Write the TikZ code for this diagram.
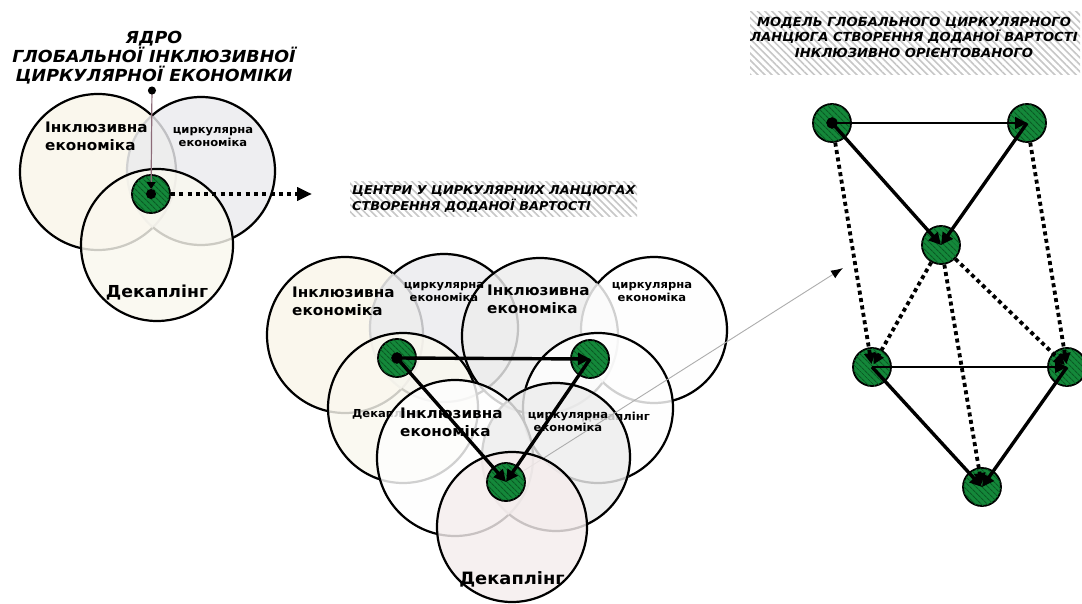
\documentclass[tikz,border=0pt]{standalone}
\usepackage{fontspec}
\setmainfont{DejaVu Sans}[BoldFeatures={FakeStretch=1.05},BoldItalicFeatures={FakeStretch=1.05}]
\usetikzlibrary{arrows.meta,patterns.meta}
\definecolor{creamA}{HTML}{F9F6EA}
\definecolor{creamB}{HTML}{FAF8EF}
\definecolor{greyA}{HTML}{EBEBEE}
\definecolor{greyB}{HTML}{EDEDED}
\definecolor{whiteC}{HTML}{FEFEFE}
\definecolor{pinkC}{HTML}{F5EDED}
\definecolor{coregreen}{HTML}{14883A}
\definecolor{coredark}{HTML}{0A5A24}
\definecolor{mauve}{HTML}{8C6B78}
\tikzset{
  ringline/.style={draw=black, line width=2.2pt},
  fadeline/.style={draw=black!18, line width=2.2pt},
  core/.style={circle, draw=black, line width=1.8pt, fill=coregreen, minimum size=38pt, inner sep=0pt,
    postaction={pattern={Lines[angle=-45,distance=4pt,line width=1.1pt]}, pattern color=coredark}},
  lblbig/.style={font=\bfseries\fontsize{14.5}{18}\selectfont, align=left, inner sep=0pt},
  lblsmall/.style={font=\bfseries\fontsize{11}{13}\selectfont, align=center, inner sep=0pt},
  lbldec/.style={font=\bfseries\fontsize{16.5}{20}\selectfont, inner sep=0pt},
  lbldecs/.style={font=\bfseries\fontsize{11}{13}\selectfont, inner sep=0pt},
  ttl/.style={font=\bfseries\itshape\fontsize{16.6}{19}\selectfont, inner sep=0pt},
  ttls/.style={font=\bfseries\itshape\fontsize{12.2}{16}\selectfont, inner sep=0pt},
  hatchbox/.style={pattern={Lines[angle=-45,distance=5pt,line width=1.6pt]}, pattern color=black!22},
  dotbig/.style={line width=3.8pt, dash pattern=on 4pt off 4.3pt},
  mconn/.style={line width=3.4pt, draw=black},
  netthin/.style={line width=2.4pt, draw=black},
  dotnet/.style={line width=3.8pt, dash pattern=on 4pt off 3.5pt, shorten >=3pt,
    -{Triangle[length=11pt,width=11pt]}},
  tipend/.style={-{Triangle[length=12pt,width=12pt]}},
  tipboth/.style={{Circle[length=11pt]}-{Triangle[length=12pt,width=12pt]}, shorten <=-5.5pt},
  grayarrow/.style={draw=black!32, line width=0.9pt, -{Latex[length=12pt,width=9pt,color=black]}}
}
\newcommand{\ring}[4]{%
  \fill[#4, fill opacity=0.82] (#1,#2) circle (#3pt);
  \draw[ringline] (#1,#2) circle (#3pt);}
\newcommand{\ringunder}[7]{%
  \fill[#4, fill opacity=0.82] (#1,#2) circle (#3pt);
  \draw[fadeline] (#1,#2) circle (#3pt);
  \begin{scope}[even odd rule]
    \clip (-20,-20) rectangle (1100,640) (#5,#6) circle (#7pt);
    \draw[ringline] (#1,#2) circle (#3pt);
  \end{scope}}
\begin{document}
\begin{tikzpicture}[x=1pt,y=-1pt]
\useasboundingbox (0,0) rectangle (1082,604);
\fill[white] (0,0) rectangle (1082,604);

% hatched title backgrounds
\fill[hatchbox] (350,182) rectangle (637,217);
\fill[hatchbox] (750,12) rectangle (1080,75);

% ---------- top-left cluster ----------
\ring{98}{172}{78}{creamA}
\ringunder{201}{171}{74}{greyA}{98}{172}{78}
\ring{157}{245}{76}{creamB}
\node[lblbig, anchor=north west] (tlInkl) at (45,121.5) {Інклюзивна\\економіка};
\node[lblsmall, anchor=north] (tlCirc) at (213,127) {циркулярна\\економіка};
\node[lbldec, anchor=base] (tlDec) at (157,298) {Декаплінг};

\node[core] (tlCore) at (151,194) {};
\coordinate (tlPin) at (152,86.5);
\coordinate (tlOut) at (312,194);
\draw[dotbig, -{Triangle[length=15pt,width=13pt]}] (tlCore.east) -- (tlOut);
\draw[mauve, line width=1.2pt, {Circle[length=8pt,color=black]}-{Triangle[length=7pt,width=9pt,color=black] Circle[length=10pt,color=black]}] (tlPin) -- ([yshift=-5pt]tlCore.center);

\node[ttl, align=center] (coreTitle) at (154,57.5) {ЯДРО\\ГЛОБАЛЬНОЇ ІНКЛЮЗИВНОЇ\\ЦИРКУЛЯРНОЇ ЕКОНОМІКИ};

% ---------- middle cluster ----------
% triplet A
\ring{345}{335}{78}{creamA}
\ringunder{444}{328}{74}{greyA}{345}{335}{78}
\ring{403}{408}{75}{creamB}
\node[lbldecs, anchor=base west] (aDec) at (352,417) {Декаплінг};
% triplet B
\ring{540}{336}{78}{greyB}
\ringunder{654}{330}{73}{whiteC}{540}{336}{78}
\ring{598}{408}{75}{whiteC}
\node[lbldecs, anchor=base east] (bDec) at (650,420) {Декаплінг};
% triplet C
\ring{455}{458}{78}{whiteC}
\ringunder{556}{457}{74}{greyB}{455}{458}{78}
\coordinate (cC) at (506,482);
\coordinate (grayTip) at (843,268);
\draw[grayarrow] (cC) -- (grayTip);
\ring{512}{527}{75}{pinkC}

\node[lblbig, anchor=north west] (aInkl) at (292,287) {Інклюзивна\\економіка};
\node[lblsmall, anchor=north] (aCirc) at (444,282) {циркулярна\\економіка};
\node[lblbig, anchor=north west] (bInkl) at (487,285) {Інклюзивна\\економіка};
\node[lblsmall, anchor=north] (bCirc) at (652,282) {циркулярна\\економіка};
\node[lblbig, anchor=north west] (cInkl) at (400,408) {Інклюзивна\\економіка};
\node[lblsmall, anchor=north] (cCirc) at (568,412) {циркулярна\\економіка};
\node[lbldec, anchor=base, font=\bfseries\fontsize{17}{20}\selectfont] (cDec) at (512,584) {Декаплінг};

\node[core] (A) at (397,358) {};
\node[core] (B) at (590,359) {};
\node[core] (C) at (cC) {};
\draw[mconn, tipboth] (A.center) -- (B.center);
\draw[mconn, tipboth] (A.center) -- (C.center);
\draw[mconn, tipend] (B.center) -- (C.center);

\node[ttls, anchor=north west, align=left] (midTitle) at (352,185) {ЦЕНТРИ У ЦИРКУЛЯРНИХ ЛАНЦЮГАХ\\СТВОРЕННЯ ДОДАНОЇ ВАРТОСТІ};

% ---------- right network ----------
\node[core] (N1) at (832,123) {};
\node[core] (N2) at (1027,123) {};
\node[core] (N3) at (941,245) {};
\node[core] (N4) at (872,367) {};
\node[core] (N5) at (1067,367) {};
\node[core] (N6) at (982,487) {};

\draw[dotnet] (N1) -- (N4.center);
\draw[dotnet] (N2) -- (N5.center);
\draw[dotnet] (N3) -- (N4.center);
\draw[dotnet] (N3) -- (N5.center);
\draw[dotnet] (N3) -- (N6.center);
\draw[netthin, tipboth] (N1.center) -- (N2.center);
\draw[mconn, tipboth] (N1.center) -- (N3.center);
\draw[mconn, tipend] (N2.center) -- (N3.center);
\draw[netthin, line width=2pt, tipend] (N4.center) -- (N5.center);
\draw[mconn, tipend] (N4.center) -- (N6.center);
\draw[mconn, tipend] (N5.center) -- (N6.center);

\node[ttls, anchor=north, align=center, font=\bfseries\itshape\fontsize{12.5}{15.5}\selectfont] (rightTitle) at (914,17) {МОДЕЛЬ ГЛОБАЛЬНОГО ЦИРКУЛЯРНОГО\\ЛАНЦЮГА СТВОРЕННЯ ДОДАНОЇ ВАРТОСТІ\\ІНКЛЮЗИВНО ОРІЄНТОВАНОГО};
\end{tikzpicture}
\end{document}
